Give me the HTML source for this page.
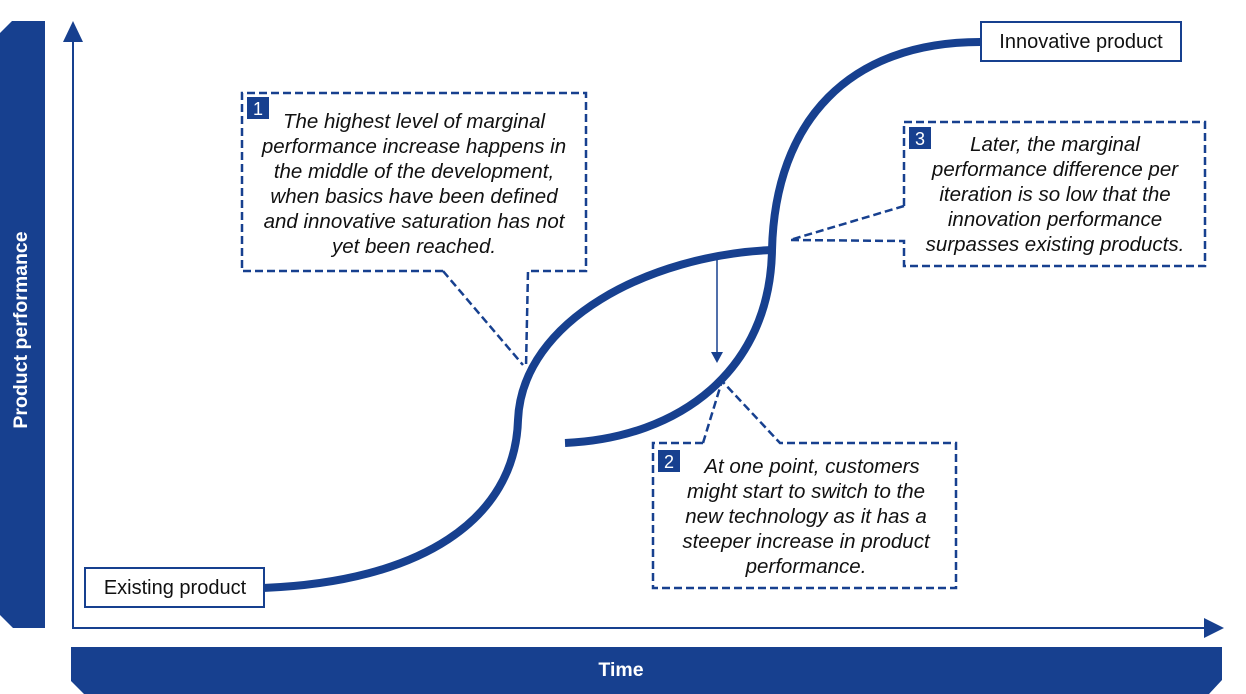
<!DOCTYPE html>
<html><head><meta charset="utf-8"><style>
html,body{margin:0;padding:0;background:#fff;}
svg{display:block;}
text{font-family:"Liberation Sans",Arial,sans-serif;}
.it{font-style:italic;font-size:20.5px;fill:#111;}
</style></head><body>
<svg width="1246" height="694" viewBox="0 0 1246 694">
<g fill="#17408F">
<polygon points="12,21 45,21 45,628 13,628 0,615 0,33"/>
<polygon points="71,647 1222,647 1222,680 1209,694 84,694 71,681"/>
<polygon points="73,21 63,42 83,42"/>
<polygon points="1224,628 1204,618 1204,638"/>
</g>
<text x="22" y="330" transform="rotate(-90 22 330)" text-anchor="middle" dominant-baseline="middle" fill="#fff" font-weight="bold" font-size="19.5">Product performance</text>
<text x="621" y="676" text-anchor="middle" fill="#fff" font-weight="bold" font-size="19.5">Time</text>
<line x1="73" y1="38" x2="73" y2="628" stroke="#17408F" stroke-width="2"/>
<line x1="72" y1="628" x2="1208" y2="628" stroke="#17408F" stroke-width="2"/>
<g fill="none" stroke="#17408F" stroke-width="8">
<path d="M263,588 C420,582 515,520 518,420 C522,320 650,255 772,250"/>
<path d="M565,443 C680,438 770,370 772,250 C775,120 850,42 980,42"/>
</g>
<line x1="717" y1="260" x2="717" y2="352" stroke="#17408F" stroke-width="1.5"/>
<polygon points="711,352 723,352 717,363" fill="#17408F"/>
<g fill="none" stroke="#17408F" stroke-width="2.5" stroke-dasharray="8,4">
<polyline points="443,271 242,271 242,93 586,93 586,271 528,271 526,367"/>
<line x1="443" y1="271" x2="523" y2="365"/>
<polyline points="904,206 904,122 1205,122 1205,266 904,266 904,241 790,240"/>
<line x1="904" y1="206" x2="790" y2="240"/>
<polyline points="703,443 653,443 653,588 956,588 956,443 780,443 722,381"/>
<line x1="703" y1="443" x2="722" y2="381"/>
</g>
<g fill="#17408F">
<rect x="247" y="97" width="22" height="22"/>
<rect x="658" y="450" width="22" height="22"/>
<rect x="909" y="127" width="22" height="22"/>
</g>
<g fill="#fff" font-size="18" text-anchor="middle">
<text x="258" y="115">1</text><text x="669" y="468">2</text><text x="920" y="145">3</text>
</g>
<g class="it" text-anchor="middle">
<text x="414" y="128">The highest level of marginal</text>
<text x="414" y="153">performance increase happens in</text>
<text x="414" y="178">the middle of the development,</text>
<text x="414" y="203">when basics have been defined</text>
<text x="414" y="228">and innovative saturation has not</text>
<text x="414" y="253">yet been reached.</text>
<text x="1055" y="151">Later, the marginal</text>
<text x="1055" y="176">performance difference per</text>
<text x="1055" y="201">iteration is so low that the</text>
<text x="1055" y="226">innovation performance</text>
<text x="1055" y="251">surpasses existing products.</text>
<text x="812" y="473">At one point, customers</text>
<text x="806" y="498">might start to switch to the</text>
<text x="806" y="523">new technology as it has a</text>
<text x="806" y="548">steeper increase in product</text>
<text x="806" y="573">performance.</text>
</g>
<rect x="981" y="22" width="200" height="39" fill="#fff" stroke="#17408F" stroke-width="2"/>
<text x="1081" y="48" text-anchor="middle" font-size="20" fill="#111">Innovative product</text>
<rect x="85" y="568" width="179" height="39" fill="#fff" stroke="#17408F" stroke-width="2"/>
<text x="175" y="594" text-anchor="middle" font-size="20" fill="#111">Existing product</text>
</svg>
</body></html>
